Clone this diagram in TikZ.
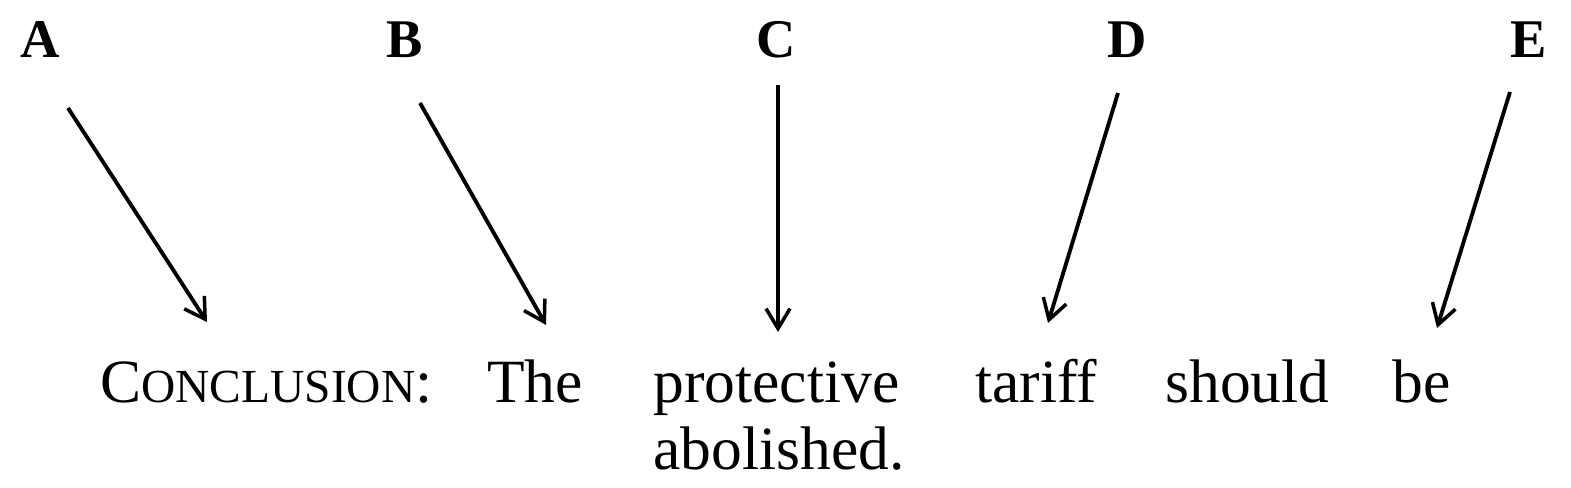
\documentclass[tikz,border=0pt]{standalone}
\usepackage{amsmath}
\usepackage{xcolor}
\usepackage{fontspec}
\setmainfont{Liberation Serif}
\usepackage{tikz}
\usetikzlibrary{arrows.meta, positioning, calc}

\newcommand{\fakesc}[2]{#1{\fontsize{27}{32}\selectfont #2}}

\begin{document}
\begin{tikzpicture}[
    letter/.style={anchor=base, inner sep=0pt, font=\fontsize{31}{36}\selectfont\bfseries},
    word/.style={anchor=base west, inner sep=0pt, font=\fontsize{35}{40}\selectfont},
    pointer/.style={-{Straight Barb[length=4mm, width=4.8mm, line width=2pt]}, line width=2.2pt}
  ]
  \useasboundingbox (0, 0) rectangle (31.42, 9.76);

  % premises
  \node[letter] (a) at (0.8, 8.6) {A};
  \node[letter] (b) at (8.1, 8.6) {B};
  \node[letter] (c) at (15.52, 8.6) {C};
  \node[letter] (d) at (22.54, 8.6) {D};
  \node[letter] (e) at (30.58, 8.6) {E};

  % conclusion
  \node[word] (concl) at (2.0, 1.7) {\fakesc{C}{ONCLUSION}:};
  \node[word] (the) at (9.74, 1.7) {The};
  \node[word] (protective) at (13.06, 1.7) {protective};
  \node[word] (tariff) at (19.5, 1.7) {tariff};
  \node[word] (should) at (23.3, 1.7) {should};
  \node[word] (be) at (27.84, 1.7) {be};
  \node[word] (abolished) at (13.06, 0.36) {abolished.};

  \coordinate (a1) at (1.36, 7.6);   \coordinate (a2) at (4.14, 3.32);
  \coordinate (b1) at (8.4, 7.7);    \coordinate (b2) at (10.92, 3.26);
  \coordinate (c1) at (15.56, 8.06); \coordinate (c2) at (15.56, 3.12);
  \coordinate (d1) at (22.36, 7.9);  \coordinate (d2) at (20.96, 3.3);
  \coordinate (e1) at (30.2, 7.92);  \coordinate (e2) at (28.74, 3.2);

  \draw[pointer] (a1) -- (a2);
  \draw[pointer] (b1) -- (b2);
  \draw[pointer] (c1) -- (c2);
  \draw[pointer] (d1) -- (d2);
  \draw[pointer] (e1) -- (e2);
\end{tikzpicture}
\end{document}
